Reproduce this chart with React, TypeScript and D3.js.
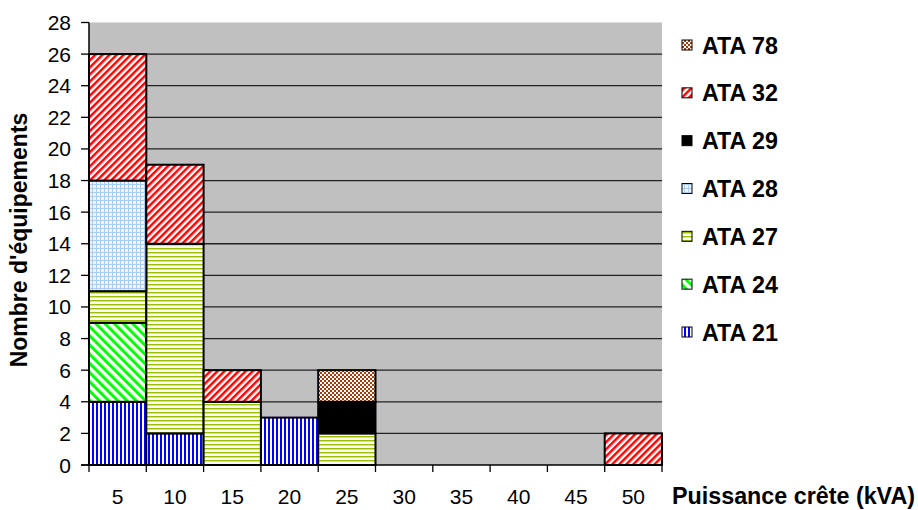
import React from "react";
import * as d3 from "d3";

const categories = ["5", "10", "15", "20", "25", "30", "35", "40", "45", "50"];
const seriesNames = ["ATA 21", "ATA 24", "ATA 27", "ATA 28", "ATA 29", "ATA 32", "ATA 78"];
const ata21 = [4, 2, 0, 3, 0, 0, 0, 0, 0, 0];
const ata24 = [5, 0, 0, 0, 0, 0, 0, 0, 0, 0];
const ata27 = [2, 12, 4, 0, 2, 0, 0, 0, 0, 0];
const ata28 = [7, 0, 0, 0, 0, 0, 0, 0, 0, 0];
const ata29 = [0, 0, 0, 0, 2, 0, 0, 0, 0, 0];
const ata32 = [8, 5, 2, 0, 0, 0, 0, 0, 0, 2];
const ata78 = [0, 0, 0, 0, 2, 0, 0, 0, 0, 0];
const yTicks = [0, 2, 4, 6, 8, 10, 12, 14, 16, 18, 20, 22, 24, 26, 28];

const seriesValues = [ata21, ata24, ata27, ata28, ata29, ata32, ata78];
const patternIds = ["p21", "p24", "p27", "p28", "p29", "p32", "p78"];

export default function App() {
  const W = 918, H = 510;
  const left = 89, right = 662, top = 22.5, bottom = 465;
  const x = d3.scaleBand<string>().domain(categories).range([left, right]).padding(0);
  const y = d3.scaleLinear().domain([0, 28]).range([bottom, top]);

  const table = categories.map((c, i) => {
    const row: any = { cat: c };
    seriesNames.forEach((s, j) => (row[s] = seriesValues[j][i]));
    return row;
  });
  const stacked = d3.stack().keys(seriesNames)(table);

  const font = "'Liberation Sans', Arial, sans-serif";
  const legendNames = seriesNames.slice().reverse();
  const legendY = d3.scalePoint<string>().domain(legendNames).range([45, 332]);

  return (
    <svg width={W} height={H} style={{ position: "absolute", left: 0, top: 0 }}>
      <defs>
        <pattern id="p21" width="4" height="4" patternUnits="userSpaceOnUse">
          <rect width="4" height="4" fill="#fff" />
          <rect width="2" height="4" fill="#0000ff" />
        </pattern>
        <pattern id="p24" width="6.5" height="6.5" patternUnits="userSpaceOnUse" patternTransform="rotate(-45)">
          <rect width="6.5" height="6.5" fill="#fff" />
          <rect width="3" height="6.5" fill="#00ff00" />
        </pattern>
        <pattern id="p27" width="4" height="4" patternUnits="userSpaceOnUse">
          <rect width="4" height="4" fill="#fbfdf0" />
          <rect y="0" width="4" height="1" fill="#99c000" />
          <rect y="1" width="4" height="1" fill="#d4e28a" />
        </pattern>
        <pattern id="p28" width="4" height="4" patternUnits="userSpaceOnUse">
          <rect width="4" height="4" fill="#eef5ff" />
          <rect width="1" height="4" fill="#a8cdf5" />
          <rect width="4" height="1" fill="#a8cdf5" />
        </pattern>
        <pattern id="p29" width="4" height="4" patternUnits="userSpaceOnUse">
          <rect width="4" height="4" fill="#000" />
        </pattern>
        <pattern id="p32" width="5" height="5" patternUnits="userSpaceOnUse" patternTransform="rotate(45)">
          <rect width="5" height="5" fill="#fff" />
          <rect width="2.5" height="5" fill="#ff0000" />
        </pattern>
        <pattern id="p78" width="4" height="4" patternUnits="userSpaceOnUse">
          <rect width="4" height="4" fill="#fff" />
          <rect width="2" height="2" fill="#a33c08" />
          <rect x="2" y="2" width="2" height="2" fill="#a33c08" />
        </pattern>
      </defs>
      <rect x={0} y={0} width={W} height={H} fill="#fff" />
      <rect x={left} y={top} width={right - left} height={bottom - top} fill="#c0c0c0" />
      {yTicks.filter((t) => t > 0 && t < 28).map((t) => (
        <line key={t} x1={left} x2={right} y1={y(t)} y2={y(t)} stroke="#222" strokeWidth={1.3} />
      ))}
      {stacked.map((s, j) => (
        <g key={s.key}>
          {s.map((d, i) =>
            d[1] - d[0] > 0 ? (
              <rect
                key={i}
                x={x(categories[i])!}
                y={y(d[1])}
                width={x.bandwidth()}
                height={y(d[0]) - y(d[1])}
                fill={`url(#${patternIds[j]})`}
                stroke="#000"
                strokeWidth={2}
              />
            ) : null
          )}
        </g>
      ))}
      <line x1={left} x2={left} y1={top} y2={bottom} stroke="#000" strokeWidth={1.5} />
      <line x1={left - 8} x2={right} y1={bottom} y2={bottom} stroke="#000" strokeWidth={1.5} />
      {yTicks.map((t) => (
        <g key={t}>
          <line x1={left - 8} x2={left} y1={y(t)} y2={y(t)} stroke="#000" strokeWidth={1.3} />
          <text x={71} y={y(t) + 7.5} textAnchor="end" fontFamily={font} fontSize={21} fill="#000">
            {t}
          </text>
        </g>
      ))}
      {categories.map((c) => (
        <line key={"b" + c} x1={x(c)!} x2={x(c)!} y1={bottom} y2={bottom + 7} stroke="#000" strokeWidth={1.3} />
      ))}
      <line x1={right} x2={right} y1={bottom} y2={bottom + 7} stroke="#000" strokeWidth={1.3} />
      {categories.map((c) => (
        <text key={"l" + c} x={x(c)! + x.bandwidth() / 2} y={503.5} textAnchor="middle" fontFamily={font} fontSize={21} fill="#000">
          {c}
        </text>
      ))}
      <text x={672} y={504} fontFamily={font} fontSize={23.3} fontWeight="bold" fill="#000">
        Puissance crête (kVA)
      </text>
      <text
        transform={`translate(27,240) rotate(-90)`}
        textAnchor="middle"
        fontFamily={font}
        fontSize={23}
        fontWeight="bold"
        fill="#000"
      >
        Nombre d'équipements
      </text>
      {legendNames.map((n) => {
        const j = seriesNames.indexOf(n);
        const cy = legendY(n)!;
        return (
          <g key={n}>
            <rect x={682} y={cy - 5} width={10} height={10} fill={`url(#${patternIds[j]})`} stroke="#000" strokeWidth={1} />
            <text x={702} y={cy + 8.5} fontFamily={font} fontSize={23.3} fontWeight="bold" fill="#000">
              {n}
            </text>
          </g>
        );
      })}
    </svg>
  );
}
